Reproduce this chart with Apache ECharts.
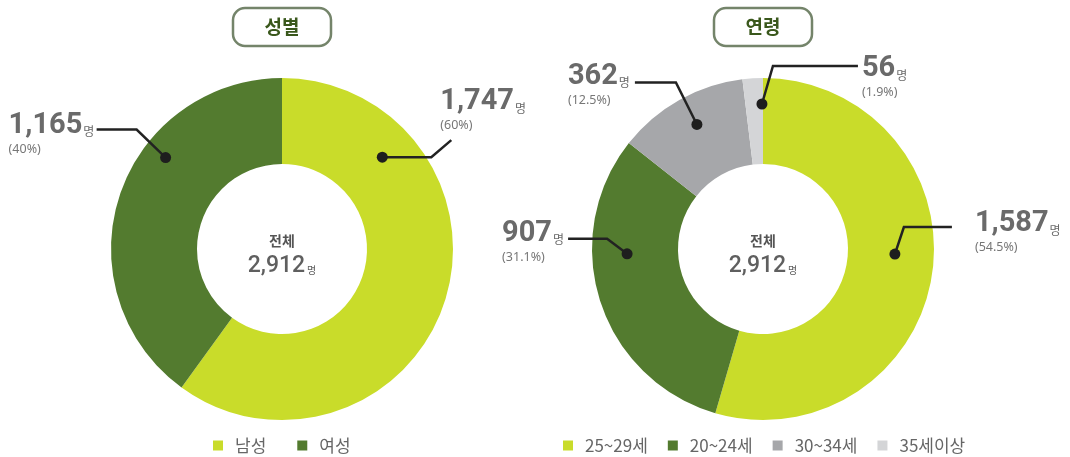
<!DOCTYPE html>
<html>
<head>
<meta charset="utf-8">
<script src="https://cdn.jsdelivr.net/npm/echarts@6/dist/echarts.min.js"></script>
<style>
    html, body { margin: 0; padding: 0; background: #fff; }
    #main { width: 1070px; height: 457px; }
</style>
</head>
<body>
<div id="main"></div>
<script>
// data
var genderNames = ['남성', '여성'];
var genderValues = [1747, 1165];
var genderPct = ['60%', '40%'];
var ageNames = ['25~29세', '20~24세', '30~34세', '35세이상'];
var ageValues = [1587, 907, 362, 56];
var agePct = ['54.5%', '31.1%', '12.5%', '1.9%'];

var genderColors = ['#c9dc2a', '#537b2f'];
var ageColors = ['#c9dc2a', '#537b2f', '#a6a7aa', '#d4d5d7'];

var centers = [[282, 249], [763, 249]];
var radius = [85, 171];
var numFont = 'Roboto, sans-serif';
var krFont = '"Noto Sans CJK KR", sans-serif';

// callout placement for each slice: t = position inside the slice, r = radius of the dot,
// a / b = the two segments of the leader line, lx / ly = label offset from line end
var callouts = [
    [
        {t: 0.22, r: 136, a: [49, 0], b: [20, -17], lx: -11, ly: -38},
        {t: 0.64, r: 148, a: [-29, -28], b: [-40, 0], lx: -88, ly: -4}
    ],
    [
        {t: 0.47, r: 132, a: [9, -27], b: [48, 0], lx: 23, ly: -3},
        {t: 0.64, r: 136, a: [-20, -15], b: [-39, 0], lx: -66, ly: -5},
        {t: 0.53, r: 141, a: [-21, -42], b: [-41, 0], lx: -67, ly: -6},
        {t: 0.94, r: 145, a: [11, -38], b: [85, 0], lx: 4, ly: 3}
    ]
];
var allValues = [genderValues, ageValues];
var allPct = [genderPct, agePct];

function sum(arr) {
    return arr.reduce(function (s, v) { return s + v; }, 0);
}
function fmt(v) {
    return String(v).replace(/\B(?=(\d{3})+(?!\d))/g, ',');
}

function calloutPoints(si, di) {
    var vals = allValues[si];
    var total = sum(vals);
    var before = sum(vals.slice(0, di));
    var c = callouts[si][di];
    var ang = 2 * Math.PI * (before + c.t * vals[di]) / total;
    var cx = centers[si][0], cy = centers[si][1];
    var dot = [cx + c.r * Math.sin(ang), cy - c.r * Math.cos(ang)];
    var elbow = [dot[0] + c.a[0], dot[1] + c.a[1]];
    var end = [elbow[0] + c.b[0], elbow[1] + c.b[1]];
    return {dot: dot, elbow: elbow, end: end, c: c};
}

var labelRich = {
    n: {fontFamily: numFont, fontWeight: 'bold', fontSize: 29, color: '#6a6a6a', lineHeight: 32},
    u: {fontFamily: krFont, fontSize: 12, color: '#6a6a6a', lineHeight: 32, verticalAlign: 'bottom', padding: [0, 0, 4, 1]},
    p: {fontFamily: '"Noto Sans", sans-serif', fontSize: 12.5, color: '#777', lineHeight: 15, align: 'left'}
};

function makePie(si, names, values, colors) {
    return {
        type: 'pie',
        center: centers[si],
        radius: radius,
        startAngle: 90,
        clockwise: true,
        avoidLabelOverlap: false,
        silent: true,
        data: names.map(function (n, i) {
            return {name: n, value: values[i], itemStyle: {color: colors[i]}};
        }),
        label: {
            show: true,
            position: 'outside',
            formatter: function (p) {
                return '{n|' + fmt(p.value) + '}{u|명}\n{p|(' + allPct[si][p.dataIndex] + ')}';
            },
            rich: labelRich
        },
        labelLine: {show: false},
        labelLayout: function (p) {
            var g = calloutPoints(si, p.dataIndex);
            return {
                x: g.end[0] + g.c.lx,
                y: g.end[1] + g.c.ly - 16,
                align: 'left',
                verticalAlign: 'top'
            };
        }
    };
}

function titleBox(cx, text) {
    return {
        type: 'group',
        children: [
            {type: 'rect', shape: {x: cx - 49, y: 8, width: 98, height: 38, r: 12},
             style: {fill: '#fff', stroke: '#74846a', lineWidth: 2.5}},
            {type: 'text', style: {text: text, x: cx, y: 27, align: 'center', verticalAlign: 'middle',
             font: 'bold 19px "Noto Sans CJK KR"', fill: '#3a581c'}}
        ]
    };
}

function centerText(si) {
    var cx = centers[si][0], cy = centers[si][1];
    return [
        {type: 'text', style: {text: '전체', x: cx, y: cy - 8, align: 'center', verticalAlign: 'middle',
         font: 'bold 14px "Noto Sans CJK KR"', fill: '#555'}},
        {type: 'text', style: {
            text: '{n|' + fmt(sum(allValues[si])) + '}{u|명}', x: cx, y: cy + 17,
            align: 'center', verticalAlign: 'middle',
            rich: {
                n: {fontFamily: numFont, fontWeight: 500, fontSize: 23, fill: '#5f5f5f', lineHeight: 24},
                u: {fontFamily: krFont, fontSize: 10, fill: '#5f5f5f', lineHeight: 24, verticalAlign: 'bottom', padding: [0, 0, 3, 2]}
            }
        }}
    ];
}

var chart = echarts.init(document.getElementById('main'));

var graphics = [titleBox(centers[0][0], '성별'), titleBox(centers[1][0], '연령')]
    .concat(centerText(0), centerText(1));
[0, 1].forEach(function (si) {
    allValues[si].forEach(function (v, di) {
        var g = calloutPoints(si, di);
        graphics.push({type: 'polyline', shape: {points: [g.dot, g.elbow, g.end]},
            style: {stroke: '#222', lineWidth: 2.5, fill: null}, z: 100});
        graphics.push({type: 'circle', shape: {cx: g.dot[0], cy: g.dot[1], r: 5.5},
            style: {fill: '#1e1e1e'}, z: 101});
    });
});

var legendBase = {
    top: 437,
    padding: 0,
    icon: 'rect',
    itemWidth: 10,
    itemHeight: 10,
    selectedMode: false,
    textStyle: {fontFamily: krFont, fontSize: 17, color: '#666', padding: [0, 0, 0, 7]}
};

var option = {
    animation: false,
    backgroundColor: '#fff',
    legend: [
        Object.assign({}, legendBase, {left: 213, itemGap: 31, data: genderNames}),
        Object.assign({}, legendBase, {left: 563, itemGap: 20, data: ageNames})
    ],
    graphic: graphics,
    series: [
        makePie(0, genderNames, genderValues, genderColors),
        makePie(1, ageNames, ageValues, ageColors)
    ]
};
chart.setOption(option);
</script>
</body>
</html>
